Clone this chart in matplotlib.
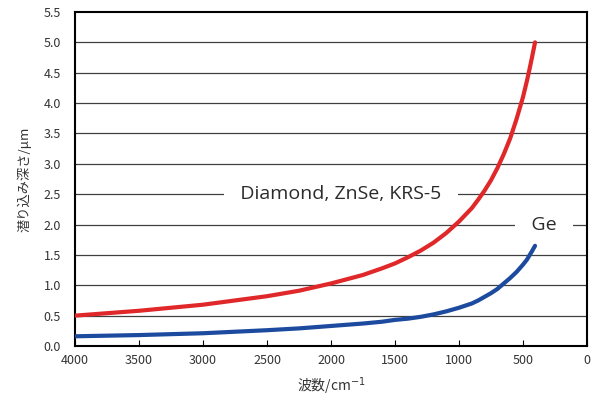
import numpy as np
import matplotlib
matplotlib.use("Agg")
import matplotlib.pyplot as plt

plt.rcParams['font.family'] = ['Noto Sans CJK JP', 'DejaVu Sans']

# wavenumber (cm-1) and penetration depth (um)
wavenumber = [4000, 3500, 3000, 2500, 2250, 2000, 1750, 1600, 1500, 1400, 1300,
              1200, 1100, 1000, 900, 850, 800, 750, 700, 650, 600, 550, 500,
              470, 450, 430, 406]
depth_diamond = [0.50, 0.58, 0.68, 0.82, 0.91, 1.03, 1.17, 1.28, 1.36, 1.46, 1.57,
                 1.70, 1.86, 2.05, 2.27, 2.41, 2.56, 2.73, 2.93, 3.16, 3.42, 3.74,
                 4.10, 4.36, 4.55, 4.75, 5.00]
depth_ge = [0.16, 0.18, 0.21, 0.26, 0.29, 0.33, 0.37, 0.40, 0.43, 0.45, 0.48,
            0.52, 0.57, 0.63, 0.70, 0.75, 0.81, 0.87, 0.94, 1.03, 1.12, 1.22,
            1.34, 1.42, 1.49, 1.56, 1.65]

xticks = [4000, 3500, 3000, 2500, 2000, 1500, 1000, 500, 0]
yticks = np.arange(0, 5.51, 0.5)

fig = plt.figure(figsize=(5.92, 3.98), dpi=100)
ax = fig.add_axes([75/592, 52/398, 512/592, 334/398])

for y in yticks[1:-1]:
    ax.axhline(y, color='#404040', lw=0.9, zorder=1)

ax.plot(wavenumber, depth_diamond, color='#e0282a', lw=3.0, solid_capstyle='round', zorder=3)
ax.plot(wavenumber, depth_ge, color='#1c4a9e', lw=3.0, solid_capstyle='round', zorder=3)

# labels sit on a gridline, white box breaks the line around them
label_font = dict(fontsize=14, color='#2b2b2b', family=['Open Sans', 'DejaVu Sans'],
                  ha='center', va='center', zorder=2,
                  bbox=dict(facecolor='white', edgecolor='none', pad=1))
ax.text(1922, 2.5, '   Diamond, ZnSe, KRS-5   ', **label_font)
ax.text(336, 2.0, '   Ge   ', **label_font)

ax.set_xlim(4000, 0)
ax.set_ylim(0, 5.5)
ax.set_xticks(xticks)
ax.set_yticks(yticks)
ax.set_yticklabels(['%.1f' % v for v in yticks])
ax.tick_params(axis='x', direction='in', length=4, width=0.8, pad=6,
               labelsize=9, labelcolor='#333333')
ax.tick_params(axis='y', length=0, pad=10, labelsize=9, labelcolor='#333333')
for s in ax.spines.values():
    s.set_linewidth(1.5)
    s.set_color('black')

ax.set_xlabel('波数/cm$^{-1}$', fontsize=10, color='#333333', labelpad=6)
ax.set_ylabel('潜り込み深さ/μm', fontsize=9.5, color='#333333', labelpad=9)

fig.savefig('out.png', dpi=100)
